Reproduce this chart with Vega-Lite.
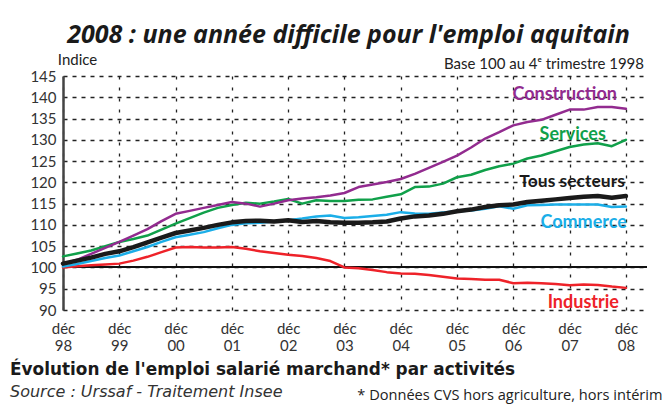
{
  "$schema": "https://vega.github.io/schema/vega-lite/v6.json",
  "padding": {"left": 10, "top": 23, "right": 2, "bottom": 2},
  "background": "white",
  "config": {"view": {"stroke": null}, "font": "Lato", "concat": {"spacing": 0}},
  "title": {
    "text": "2008 : une année difficile pour l'emploi aquitain",
    "orient": "top", "anchor": "middle", "frame": "group",
    "offset": -16, "dx": -6.5, "baseline": "alphabetic",
    "font": "Open Sans", "fontSize": 25, "fontWeight": "bold", "fontStyle": "italic", "color": "#1a1a1a"
  },
  "vconcat": [
    {
      "title": {
        "text": "Évolution de l'emploi salarié marchand* par activités",
        "subtitle": "Source : Urssaf - Traitement Insee",
        "orient": "bottom", "anchor": "start", "frame": "group",
        "dx": -53, "offset": -40,
        "font": "DejaVu Sans", "fontSize": 16.9, "fontWeight": "bold", "color": "#1a1a1a",
        "subtitleFont": "DejaVu Sans", "subtitleFontSize": 16, "subtitleFontStyle": "italic",
        "subtitleColor": "#333333", "subtitlePadding": 5
      },
      "vconcat": [
        {
          "width": 584,
          "height": 234,
          "title": {
            "text": "Base 100 au 4ᵉ trimestre 1998",
            "orient": "top", "anchor": "end", "frame": "group",
            "dx": -3, "offset": -32, "baseline": "alphabetic",
            "font": "Lato", "fontSize": 15, "fontWeight": "normal", "color": "#222222"
          },
          "data": {
            "values": [
              {"q": 0, "Construction": 100.8, "Services": 102.6, "Tous secteurs": 100.9, "Commerce": 100.2, "Industrie": 100.0},
              {"q": 1, "Construction": 101.8, "Services": 103.3, "Tous secteurs": 101.6, "Commerce": 100.8, "Industrie": 100.3},
              {"q": 2, "Construction": 103.2, "Services": 104.0, "Tous secteurs": 102.3, "Commerce": 101.5, "Industrie": 100.5},
              {"q": 3, "Construction": 104.6, "Services": 105.0, "Tous secteurs": 103.2, "Commerce": 102.2, "Industrie": 100.7},
              {"q": 4, "Construction": 106.0, "Services": 106.0, "Tous secteurs": 103.8, "Commerce": 102.8, "Industrie": 100.9},
              {"q": 5, "Construction": 107.5, "Services": 106.7, "Tous secteurs": 104.8, "Commerce": 103.8, "Industrie": 101.6},
              {"q": 6, "Construction": 109.0, "Services": 107.5, "Tous secteurs": 105.9, "Commerce": 104.8, "Industrie": 102.5},
              {"q": 7, "Construction": 110.9, "Services": 108.9, "Tous secteurs": 107.0, "Commerce": 106.0, "Industrie": 103.6},
              {"q": 8, "Construction": 112.6, "Services": 110.3, "Tous secteurs": 108.1, "Commerce": 107.1, "Industrie": 104.7},
              {"q": 9, "Construction": 113.3, "Services": 111.6, "Tous secteurs": 108.7, "Commerce": 107.7, "Industrie": 104.8},
              {"q": 10, "Construction": 114.0, "Services": 112.9, "Tous secteurs": 109.3, "Commerce": 108.3, "Industrie": 104.7},
              {"q": 11, "Construction": 114.7, "Services": 114.0, "Tous secteurs": 110.0, "Commerce": 109.2, "Industrie": 104.7},
              {"q": 12, "Construction": 115.4, "Services": 114.7, "Tous secteurs": 110.6, "Commerce": 110.0, "Industrie": 104.8},
              {"q": 13, "Construction": 115.0, "Services": 115.2, "Tous secteurs": 110.9, "Commerce": 110.4, "Industrie": 104.4},
              {"q": 14, "Construction": 114.3, "Services": 115.0, "Tous secteurs": 111.0, "Commerce": 110.5, "Industrie": 103.8},
              {"q": 15, "Construction": 115.0, "Services": 115.5, "Tous secteurs": 110.8, "Commerce": 110.8, "Industrie": 103.4},
              {"q": 16, "Construction": 115.8, "Services": 116.1, "Tous secteurs": 111.1, "Commerce": 111.1, "Industrie": 103.0},
              {"q": 17, "Construction": 116.2, "Services": 115.0, "Tous secteurs": 110.7, "Commerce": 111.5, "Industrie": 102.7},
              {"q": 18, "Construction": 116.5, "Services": 115.8, "Tous secteurs": 110.9, "Commerce": 112.0, "Industrie": 102.2},
              {"q": 19, "Construction": 116.9, "Services": 115.6, "Tous secteurs": 110.6, "Commerce": 112.2, "Industrie": 101.5},
              {"q": 20, "Construction": 117.5, "Services": 115.6, "Tous secteurs": 110.5, "Commerce": 111.6, "Industrie": 100.0},
              {"q": 21, "Construction": 118.9, "Services": 115.9, "Tous secteurs": 110.5, "Commerce": 111.8, "Industrie": 99.8},
              {"q": 22, "Construction": 119.5, "Services": 116.0, "Tous secteurs": 110.6, "Commerce": 112.1, "Industrie": 99.4},
              {"q": 23, "Construction": 120.1, "Services": 116.6, "Tous secteurs": 110.8, "Commerce": 112.4, "Industrie": 98.9},
              {"q": 24, "Construction": 120.8, "Services": 117.2, "Tous secteurs": 111.5, "Commerce": 113.0, "Industrie": 98.6},
              {"q": 25, "Construction": 122.0, "Services": 118.9, "Tous secteurs": 112.0, "Commerce": 112.7, "Industrie": 98.5},
              {"q": 26, "Construction": 123.4, "Services": 119.0, "Tous secteurs": 112.2, "Commerce": 112.6, "Industrie": 98.2},
              {"q": 27, "Construction": 124.8, "Services": 119.7, "Tous secteurs": 112.6, "Commerce": 112.9, "Industrie": 97.8},
              {"q": 28, "Construction": 126.3, "Services": 121.2, "Tous secteurs": 113.2, "Commerce": 113.2, "Industrie": 97.4},
              {"q": 29, "Construction": 128.2, "Services": 121.8, "Tous secteurs": 113.6, "Commerce": 113.4, "Industrie": 97.3},
              {"q": 30, "Construction": 130.3, "Services": 122.9, "Tous secteurs": 114.2, "Commerce": 113.8, "Industrie": 97.1},
              {"q": 31, "Construction": 131.8, "Services": 123.8, "Tous secteurs": 114.6, "Commerce": 114.4, "Industrie": 97.1},
              {"q": 32, "Construction": 133.4, "Services": 124.4, "Tous secteurs": 114.8, "Commerce": 113.8, "Industrie": 96.3},
              {"q": 33, "Construction": 134.2, "Services": 125.6, "Tous secteurs": 115.4, "Commerce": 114.6, "Industrie": 96.4},
              {"q": 34, "Construction": 134.7, "Services": 126.3, "Tous secteurs": 115.7, "Commerce": 114.7, "Industrie": 96.3},
              {"q": 35, "Construction": 135.9, "Services": 127.3, "Tous secteurs": 116.0, "Commerce": 114.8, "Industrie": 96.1},
              {"q": 36, "Construction": 137.1, "Services": 128.3, "Tous secteurs": 116.3, "Commerce": 114.8, "Industrie": 95.8},
              {"q": 37, "Construction": 137.1, "Services": 128.9, "Tous secteurs": 116.6, "Commerce": 114.8, "Industrie": 96.0},
              {"q": 38, "Construction": 137.7, "Services": 129.2, "Tous secteurs": 116.8, "Commerce": 114.8, "Industrie": 95.9},
              {"q": 39, "Construction": 137.7, "Services": 128.5, "Tous secteurs": 116.4, "Commerce": 114.2, "Industrie": 95.5},
              {"q": 40, "Construction": 137.3, "Services": 130.0, "Tous secteurs": 116.8, "Commerce": 114.3, "Industrie": 95.2}
            ]
          },
          "transform": [
            {"fold": ["Industrie", "Commerce", "Services", "Construction", "Tous secteurs"], "as": ["series", "v"]}
          ],
          "encoding": {
            "x": {
              "field": "q", "type": "quantitative",
              "scale": {"domain": [0, 41.5], "nice": false, "zero": false},
              "axis": {
                "values": [0, 4, 8, 12, 16, 20, 24, 28, 32, 36, 40],
                "labelExpr": "['déc', slice(toString(1998 + datum.value / 4), 2)]",
                "grid": true, "gridDash": [3, 8], "gridColor": "#222222", "gridWidth": 1.3,
                "ticks": false, "domain": false,
                "labelFont": "Lato", "labelFontSize": 15, "labelColor": "#333333",
                "labelPadding": 11, "labelLineHeight": 17, "labelFlush": false, "labelOverlap": false,
                "labelBaseline": "top",
                "title": "* Données CVS hors agriculture, hors intérim",
                "titleFont": "Open Sans", "titleFontSize": 14.6, "titleFontWeight": "normal", "titleColor": "#222222",
                "titleX": 599, "titleY": 89, "titleAlign": "right", "titleBaseline": "alphabetic"
              }
            },
            "y": {
              "field": "v", "type": "quantitative",
              "scale": {"domain": [90, 145], "nice": false, "zero": false},
              "axis": {
                "values": [90, 95, 100, 105, 110, 115, 120, 125, 130, 135, 140, 145],
                "grid": true, "gridDash": [4, 5], "gridColor": "#222222", "gridWidth": 1.3,
                "ticks": false, "domain": true, "domainColor": "#444444", "domainWidth": 2.5,
                "labelFont": "Lato", "labelFontSize": 15, "labelColor": "#333333", "labelPadding": 7,
                "title": "Indice", "titleAngle": 0, "titleX": 14, "titleY": -12,
                "titleAlign": "center", "titleBaseline": "alphabetic",
                "titleFont": "Lato", "titleFontSize": 15, "titleFontWeight": "normal", "titleColor": "#222222"
              }
            }
          },
          "layer": [
            {
              "mark": {"type": "rule", "color": "#111111", "strokeWidth": 1.2},
              "encoding": {
                "x": null,
                "y": {"datum": 100, "type": "quantitative"}
              }
            },
            {
              "transform": [{"filter": "datum.series != 'Tous secteurs'"}],
              "mark": {"type": "line", "strokeJoin": "round", "strokeCap": "round", "strokeWidth": 2.5},
              "encoding": {
                "color": {
                  "field": "series", "type": "nominal",
                  "scale": {
                    "domain": ["Industrie", "Commerce", "Services", "Construction"],
                    "range": ["#EE2229", "#1BAEE8", "#10A04A", "#922B8F"]
                  },
                  "legend": null
                }
              }
            },
            {
              "transform": [{"filter": "datum.series == 'Tous secteurs'"}],
              "mark": {"type": "line", "strokeJoin": "round", "strokeCap": "round", "strokeWidth": 4.5, "color": "#1A1A1A"},
              "encoding": {}
            },
            {
              "transform": [{"filter": "datum.q == 40 && datum.series == 'Construction'"}],
              "mark": {"type": "text", "align": "right", "baseline": "alphabetic", "dx": -9, "dy": -9, "font": "Lato", "fontSize": 18, "fontWeight": "bold", "color": "#922B8F"},
              "encoding": {"text": {"field": "series"}}
            },
            {
              "transform": [{"filter": "datum.q == 40 && datum.series == 'Services'"}],
              "mark": {"type": "text", "align": "right", "baseline": "alphabetic", "dx": -20, "dy": 0, "font": "Lato", "fontSize": 18, "fontWeight": "bold", "color": "#10A04A"},
              "encoding": {"text": {"field": "series"}}
            },
            {
              "transform": [{"filter": "datum.q == 40 && datum.series == 'Tous secteurs'"}],
              "mark": {"type": "text", "align": "right", "baseline": "alphabetic", "dx": -1, "dy": -9, "font": "Lato", "fontSize": 17.5, "fontWeight": "bold", "color": "#1A1A1A"},
              "encoding": {"text": {"field": "series"}}
            },
            {
              "transform": [{"filter": "datum.q == 40 && datum.series == 'Commerce'"}],
              "mark": {"type": "text", "align": "right", "baseline": "alphabetic", "dx": 1, "dy": 21, "font": "Lato", "fontSize": 18, "fontWeight": "bold", "color": "#1BAEE8"},
              "encoding": {"text": {"field": "series"}}
            },
            {
              "transform": [{"filter": "datum.q == 40 && datum.series == 'Industrie'"}],
              "mark": {"type": "text", "align": "right", "baseline": "alphabetic", "dx": -7, "dy": 20, "font": "Lato", "fontSize": 18, "fontWeight": "bold", "color": "#EE2229"},
              "encoding": {"text": {"field": "series"}}
            }
          ]
        }
      ]
    }
  ]
}
